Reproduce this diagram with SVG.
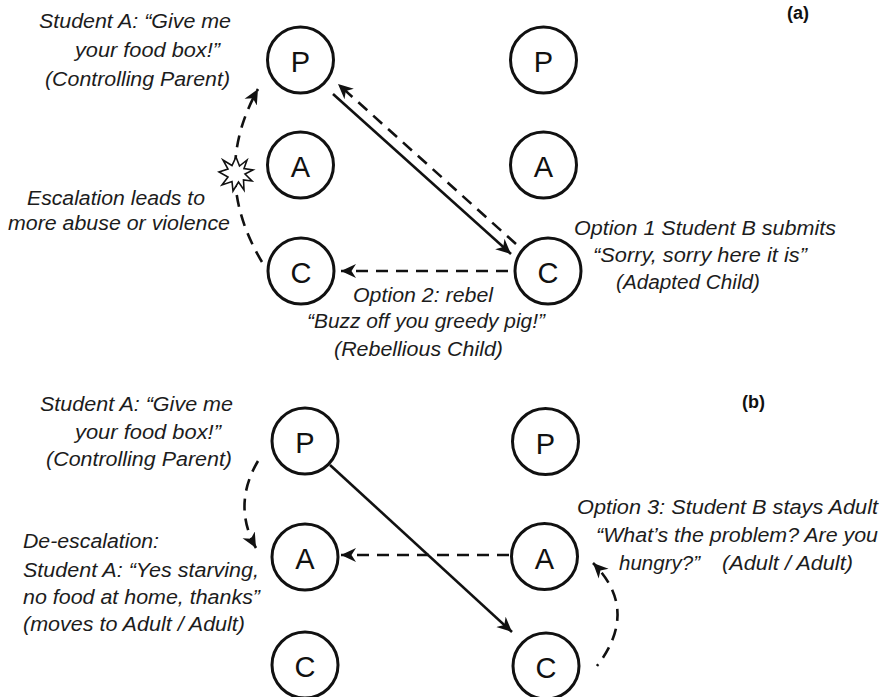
<svg xmlns="http://www.w3.org/2000/svg" width="886" height="697" viewBox="0 0 886 697">
  <style>
    .ego circle { fill: #fff; stroke: #111; stroke-width: 3; }
    .ego text { font-family: "Liberation Sans", Arial, sans-serif; font-size: 29px; fill: #111; text-anchor: middle; }
    .lbl { font-family: "Liberation Sans", Arial, sans-serif; font-size: 20.5px; font-style: italic; fill: #1c1c1c; }
    .tag { font-family: "Liberation Sans", Arial, sans-serif; font-size: 18px; font-weight: bold; fill: #111; }
    .solid { fill: none; stroke: #111; stroke-width: 2.6; }
    .dash { fill: none; stroke: #111; stroke-width: 2.6; stroke-dasharray: 12 8; }
  </style>
  <defs>
    <marker id="head" markerUnits="userSpaceOnUse" markerWidth="18" markerHeight="16" refX="15" refY="7.5" orient="auto">
      <path d="M0,0.5 L15,7.5 L0,14.5 L4.5,7.5 z" fill="#111"/>
    </marker>
  </defs>
  <rect width="886" height="697" fill="#fff"/>

  <!-- panel (a): ego states of student A (left) and student B (right) -->
  <g id="a-A-P" class="ego"><circle cx="300.5" cy="60" r="33"/><text x="300.5" y="72">P</text></g>
  <g id="a-A-A" class="ego"><circle cx="300.5" cy="165" r="33"/><text x="300.5" y="177">A</text></g>
  <g id="a-A-C" class="ego"><circle cx="301" cy="271" r="33"/><text x="301" y="283">C</text></g>
  <g id="a-B-P" class="ego"><circle cx="543.5" cy="60" r="33"/><text x="543.5" y="72">P</text></g>
  <g id="a-B-A" class="ego"><circle cx="543.5" cy="165" r="33"/><text x="543.5" y="177">A</text></g>
  <g id="a-B-C" class="ego"><circle cx="548" cy="271" r="33"/><text x="548" y="283">C</text></g>

  <!-- panel (b) -->
  <g id="b-A-P" class="ego"><circle cx="305" cy="441" r="33"/><text x="305" y="453">P</text></g>
  <g id="b-A-A" class="ego"><circle cx="305" cy="557" r="33"/><text x="305" y="569">A</text></g>
  <g id="b-A-C" class="ego"><circle cx="305" cy="665" r="33"/><text x="305" y="677">C</text></g>
  <g id="b-B-P" class="ego"><circle cx="545.5" cy="441.5" r="33"/><text x="545.5" y="453.5">P</text></g>
  <g id="b-B-A" class="ego"><circle cx="544.5" cy="556.5" r="33"/><text x="544.5" y="568.5">A</text></g>
  <g id="b-B-C" class="ego"><circle cx="546" cy="666" r="33"/><text x="546" y="678">C</text></g>

  <!-- transactions -->
  <g id="connectors">
    <!-- (a) -->
    <path class="solid" d="M333,94 L511,254" marker-end="url(#head)"/>
    <path class="dash" d="M516,244 L338,84" marker-end="url(#head)"/>
    <path class="dash" d="M508,271 L341,271" marker-end="url(#head)"/>
    <path class="dash" d="M262,262 Q210,175 258,89" marker-end="url(#head)"/>
    <!-- (b) -->
    <path class="solid" d="M330,465 L512,632" marker-end="url(#head)"/>
    <path class="dash" d="M509,555 L341,555" marker-end="url(#head)"/>
    <path class="dash" d="M258,461 Q232,505 256,548" marker-end="url(#head)"/>
    <path class="dash" style="stroke-dashoffset:10" d="M597,666 Q640,610 593,563" marker-end="url(#head)"/>
  </g>

  <!-- clash burst on the escalation arc -->
  <g id="burst">
    <polygon points="236,157 239.5,166 247,160 244,168.5 253,170 245,174 252,181 243.5,180 244,190 238.5,182 233,191 232,181.5 222,185 228,177 219,172 228,169 223,160 232,165.5" fill="#fff" stroke="#111" stroke-width="1.6" stroke-linejoin="miter"/>
  </g>

  <!-- labels -->
  <g id="labels">
    <text class="tag" x="787" y="19">(a)</text>
    <text class="lbl" x="39" y="28" textLength="192" lengthAdjust="spacingAndGlyphs">Student A: “Give me</text>
    <text class="lbl" x="75" y="57" textLength="145" lengthAdjust="spacingAndGlyphs">your food box!”</text>
    <text class="lbl" x="45" y="86" textLength="185" lengthAdjust="spacingAndGlyphs">(Controlling Parent)</text>
    <text class="lbl" x="27" y="205" textLength="178" lengthAdjust="spacingAndGlyphs">Escalation leads to</text>
    <text class="lbl" x="8" y="230" textLength="222" lengthAdjust="spacingAndGlyphs">more abuse or violence</text>
    <text class="lbl" x="574" y="235" textLength="262" lengthAdjust="spacingAndGlyphs">Option 1 Student B submits</text>
    <text class="lbl" x="593" y="262" textLength="214" lengthAdjust="spacingAndGlyphs">“Sorry, sorry here it is”</text>
    <text class="lbl" x="616" y="289" textLength="144" lengthAdjust="spacingAndGlyphs">(Adapted Child)</text>
    <text class="lbl" x="353" y="302" textLength="140" lengthAdjust="spacingAndGlyphs">Option 2: rebel</text>
    <text class="lbl" x="307" y="328" textLength="238" lengthAdjust="spacingAndGlyphs">“Buzz off you greedy pig!”</text>
    <text class="lbl" x="334" y="356" textLength="169" lengthAdjust="spacingAndGlyphs">(Rebellious Child)</text>

    <text class="tag" x="742" y="408">(b)</text>
    <text class="lbl" x="40" y="411" textLength="193" lengthAdjust="spacingAndGlyphs">Student A: “Give me</text>
    <text class="lbl" x="75" y="439" textLength="146" lengthAdjust="spacingAndGlyphs">your food box!”</text>
    <text class="lbl" x="46" y="466" textLength="186" lengthAdjust="spacingAndGlyphs">(Controlling Parent)</text>
    <text class="lbl" x="23" y="548" textLength="136" lengthAdjust="spacingAndGlyphs">De-escalation:</text>
    <text class="lbl" x="23" y="577" textLength="236" lengthAdjust="spacingAndGlyphs">Student A: “Yes starving,</text>
    <text class="lbl" x="23" y="604" textLength="237" lengthAdjust="spacingAndGlyphs">no food at home, thanks”</text>
    <text class="lbl" x="23" y="631" textLength="222" lengthAdjust="spacingAndGlyphs">(moves to Adult / Adult)</text>
    <text class="lbl" x="577" y="514" textLength="301" lengthAdjust="spacingAndGlyphs">Option 3: Student B stays Adult</text>
    <text class="lbl" x="596" y="542" textLength="282" lengthAdjust="spacingAndGlyphs">“What’s the problem? Are you</text>
    <text class="lbl" x="619" y="570" textLength="81" lengthAdjust="spacingAndGlyphs">hungry?”</text>
    <text class="lbl" x="722" y="570" textLength="131" lengthAdjust="spacingAndGlyphs">(Adult / Adult)</text>
  </g>
</svg>
